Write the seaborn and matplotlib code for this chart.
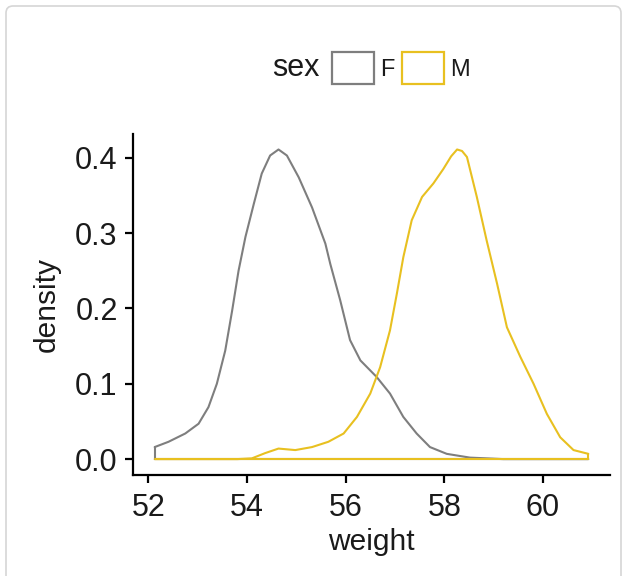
import matplotlib
matplotlib.use("Agg")
import matplotlib.pyplot as plt
import seaborn as sns
import pandas as pd
from matplotlib.patches import Patch, FancyBboxPatch
from matplotlib.transforms import IdentityTransform
from matplotlib.ticker import FormatStrFormatter

# ---- data ----
groups = ["F", "M"]
colors = ["#7E7E7E", "#E8C020"]

F_weight = [52.13, 52.41, 52.75, 53.02, 53.22, 53.39, 53.56, 53.70, 53.83, 53.97,
            54.14, 54.30, 54.47, 54.64, 54.81, 55.05, 55.32, 55.59, 55.69, 55.89,
            56.09, 56.30, 56.63, 56.90, 57.17, 57.44, 57.71, 58.05, 58.52, 59.20,
            60.92]
F_density = [0.016, 0.023, 0.034, 0.047, 0.069, 0.100, 0.144, 0.197, 0.250, 0.295,
             0.339, 0.379, 0.403, 0.411, 0.403, 0.374, 0.334, 0.286, 0.259, 0.211,
             0.158, 0.131, 0.109, 0.087, 0.056, 0.034, 0.016, 0.007, 0.002, 0.0,
             0.0]

M_weight = [52.13, 53.80, 54.10, 54.37, 54.64, 54.98, 55.32, 55.65, 55.96, 56.23,
            56.50, 56.70, 56.90, 57.04, 57.17, 57.34, 57.55, 57.78, 57.98, 58.14,
            58.26, 58.36, 58.46, 58.66, 58.86, 59.07, 59.27, 59.54, 59.81, 60.08,
            60.35, 60.62, 60.92]
M_density = [0.0, 0.0, 0.001, 0.008, 0.014, 0.012, 0.016, 0.023, 0.034, 0.056,
             0.087, 0.122, 0.171, 0.220, 0.268, 0.317, 0.348, 0.366, 0.385, 0.402,
             0.411, 0.409, 0.401, 0.348, 0.290, 0.233, 0.175, 0.136, 0.100, 0.060,
             0.029, 0.012, 0.007]

x_ticks = [52, 54, 56, 58, 60]
y_ticks = [0.0, 0.1, 0.2, 0.3, 0.4]

df = pd.concat([
    pd.DataFrame({"weight": F_weight, "density": F_density, "sex": "F"}),
    pd.DataFrame({"weight": M_weight, "density": M_density, "sex": "M"}),
], ignore_index=True)

sns.set_theme(style="ticks")
plt.rcParams["font.family"] = ["Liberation Sans", "DejaVu Sans"]

fig = plt.figure(figsize=(6.27, 5.76), dpi=100)
fig.patch.set_facecolor("white")
ax = fig.add_axes([133 / 627, 1 - 474.6 / 576, (610 - 133) / 627, (474.6 - 134) / 576])

palette = dict(zip(groups, colors))
lw = 1.5
sns.lineplot(data=df, x="weight", y="density", hue="sex", palette=palette,
             sort=False, estimator=None, legend=False, linewidth=lw, ax=ax)
for ln in ax.lines:
    ln.set_solid_joinstyle("round")

# close each density polygon along the baseline (ggplot "full" outline)
for g, c in zip(groups, colors):
    sub = df[df["sex"] == g]
    xs = sub["weight"].to_numpy()
    ys = sub["density"].to_numpy()
    ax.plot([xs[-1], xs[-1], xs[0], xs[0]], [ys[-1], 0, 0, ys[0]],
            color=c, linewidth=lw, solid_joinstyle="miter")

xmin = min(F_weight + M_weight)
xmax = max(F_weight + M_weight)
pad = 0.05 * (xmax - xmin)
ax.set_xlim(xmin - pad, xmax + pad)
ymax = max(F_density + M_density)
ax.set_ylim(-0.05 * ymax, ymax * 1.05)

ax.set_xticks(x_ticks)
ax.set_yticks(y_ticks)
ax.yaxis.set_major_formatter(FormatStrFormatter("%.1f"))

txt_col = "#1a1a1a"
ax.tick_params(axis="both", labelsize=22, length=5.5, width=1.6, colors="black",
               labelcolor=txt_col)
ax.tick_params(axis="y", pad=5.5)
ax.tick_params(axis="x", pad=7.5)
for s in ["top", "right"]:
    ax.spines[s].set_visible(False)
for s in ["left", "bottom"]:
    ax.spines[s].set_linewidth(1.6)
    ax.spines[s].set_color("black")

ax.set_xlabel("weight", fontsize=21.5, color=txt_col, labelpad=4)
ax.set_ylabel("density", fontsize=21.5, color=txt_col, labelpad=10)
ax.set_facecolor("white")

# legend on top: title "sex" on the left, then boxes
fig.text(272 / 627, 1 - 68 / 576, "sex", fontsize=22, color=txt_col,
         ha="left", va="center")
handles = [Patch(facecolor="white", edgecolor=c, linewidth=1.6, label=g)
           for g, c in zip(groups, colors)]
fs_leg = 17
fig.legend(handles=handles, loc="center left",
           bbox_to_anchor=(332 / 627, 1 - 68 / 576), ncol=2, frameon=False,
           fontsize=fs_leg, handlelength=1.78, handleheight=1.74,
           handletextpad=0.25, columnspacing=0.34, borderpad=0, borderaxespad=0,
           labelcolor=txt_col)

# light card border
border = FancyBboxPatch((6, -30), 615, 600, boxstyle="round,pad=0,rounding_size=7",
                        transform=IdentityTransform(), facecolor="none",
                        edgecolor="#d6d6d6", linewidth=1.2)
fig.add_artist(border)

fig.savefig("out.png", dpi=100, facecolor="white")
